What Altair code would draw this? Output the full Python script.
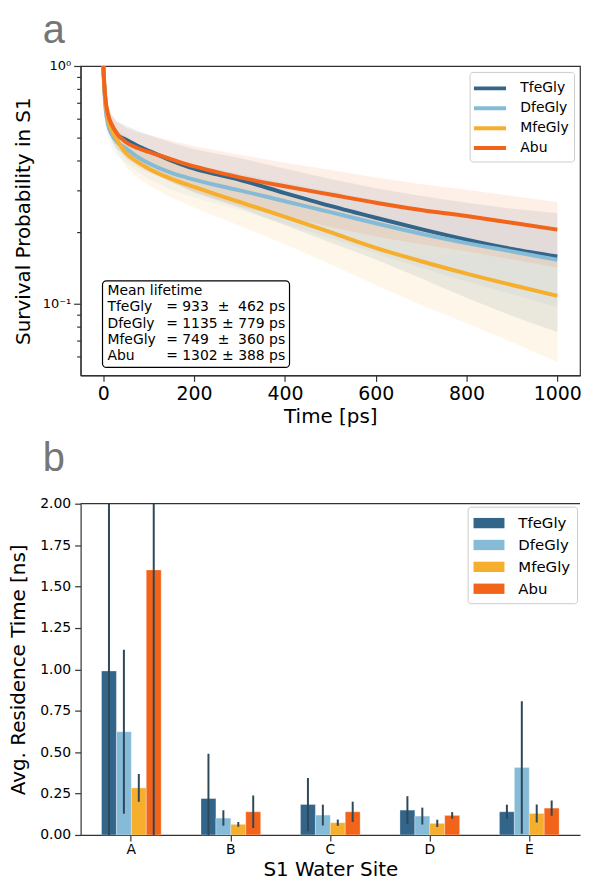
import altair as alt
import pandas as pd

# ---------------- data ----------------
series = ["TfeGly", "DfeGly", "MfeGly", "Abu"]
colors = ["#33658A", "#86BBD8", "#F6AE2D", "#F26419"]

times = [0, 2, 5, 10, 20, 30, 50, 75, 100, 150, 200, 250, 300, 400, 500, 600, 700, 800, 900, 1000]

surv_tfe = [1.0, 0.83, 0.70, 0.61, 0.545, 0.515, 0.49, 0.462, 0.44, 0.40, 0.37, 0.35, 0.332, 0.292, 0.258, 0.23, 0.206, 0.186, 0.17, 0.158]
surv_dfe = [1.0, 0.80, 0.66, 0.57, 0.51, 0.48, 0.45, 0.415, 0.39, 0.355, 0.333, 0.315, 0.30, 0.27, 0.243, 0.218, 0.197, 0.18, 0.166, 0.153]
surv_mfe = [1.0, 0.82, 0.70, 0.60, 0.53, 0.49, 0.43, 0.395, 0.37, 0.335, 0.31, 0.288, 0.268, 0.232, 0.20, 0.172, 0.151, 0.134, 0.12, 0.108]
surv_abu = [1.0, 0.85, 0.72, 0.63, 0.56, 0.52, 0.478, 0.452, 0.435, 0.405, 0.378, 0.358, 0.34, 0.312, 0.288, 0.266, 0.248, 0.234, 0.219, 0.205]

sd_tfe = [0.0, 0.03, 0.05, 0.06, 0.065, 0.068, 0.07, 0.072, 0.073, 0.075, 0.076, 0.077, 0.078, 0.078, 0.077, 0.076, 0.078, 0.08, 0.081, 0.082]
sd_dfe = [0.0, 0.04, 0.06, 0.065, 0.063, 0.06, 0.058, 0.056, 0.055, 0.054, 0.053, 0.052, 0.052, 0.053, 0.054, 0.055, 0.055, 0.056, 0.056, 0.056]
sd_mfe = [0.0, 0.03, 0.045, 0.05, 0.052, 0.053, 0.054, 0.055, 0.055, 0.056, 0.056, 0.056, 0.055, 0.054, 0.053, 0.052, 0.052, 0.051, 0.051, 0.051]
sd_abu = [0.0, 0.02, 0.04, 0.05, 0.06, 0.065, 0.07, 0.075, 0.078, 0.08, 0.082, 0.083, 0.083, 0.08, 0.077, 0.074, 0.07, 0.068, 0.065, 0.063]

lifetime = [933, 1135, 749, 1302]
lifetime_err = [462, 779, 360, 388]

sites = ["A", "B", "C", "D", "E"]
res_tfe = [0.99, 0.22, 0.184, 0.15, 0.14]
res_dfe = [0.623, 0.102, 0.12, 0.114, 0.407]
res_mfe = [0.284, 0.064, 0.074, 0.07, 0.13]
res_abu = [1.60, 0.14, 0.14, 0.118, 0.162]
err_tfe = [1.15, 0.27, 0.16, 0.084, 0.043]
err_dfe = [0.495, 0.047, 0.063, 0.051, 0.40]
err_mfe = [0.084, 0.015, 0.019, 0.022, 0.054]
err_abu = [1.65, 0.098, 0.061, 0.02, 0.046]

surv = dict(zip(series, [surv_tfe, surv_dfe, surv_mfe, surv_abu]))
sds = dict(zip(series, [sd_tfe, sd_dfe, sd_mfe, sd_abu]))
res = dict(zip(series, [res_tfe, res_dfe, res_mfe, res_abu]))
errs = dict(zip(series, [err_tfe, err_dfe, err_mfe, err_abu]))

band_names = [s + " band" for s in series]

rows = []
for k, s in enumerate(series):
    for t, m, sd in zip(times, surv[s], sds[s]):
        rows.append({"series": s, "grp": band_names[k], "order": k, "t": t, "p": m,
                     "lo": max(m - sd, 0.01), "hi": min(m + sd, 1.0)})
df_a = pd.DataFrame(rows)

rows = []
for k, s in enumerate(series):
    for site, v, e in zip(sites, res[s], errs[s]):
        rows.append({"site": site, "series": s, "value": v, "lo": v - e, "hi": v + e})
df_b = pd.DataFrame(rows)

NB = "\u00a0"
names_text = "\n".join(["Mean lifetime"] + series)
vals = []
for lt, le in zip(lifetime, lifetime_err):
    if lt < 1000:
        vals.append(f"= {lt}{NB}{NB}±{NB}{NB}{le} ps".replace(" ", NB))
    else:
        vals.append(f"= {lt} ± {le} ps".replace(" ", NB))
vals_text = "\n".join([NB] + vals)
df_box = pd.DataFrame({"names": [names_text], "vals": [vals_text]})

PANEL_GRAY = "#767676"
PANEL_FONT = "Liberation Sans"

# ---------------- panel a ----------------
W_A, H_A = 502, 311
color_scale = alt.Scale(domain=series, range=colors)
band_scale = alt.Scale(domain=band_names, range=colors)
xs = alt.Scale(domain=[-50, 1050], nice=False, zero=False)
ys = alt.Scale(type="log", domain=[0.05, 1], nice=False)

major_test = "datum.value == 1 || datum.value == 0.1"
xax = alt.Axis(values=[0, 200, 400, 600, 800, 1000], format="d", title="Time [ps]", grid=False,
               labelFontSize=19, titleFontSize=20, tickSize=6, labelPadding=3,
               titlePadding=3, titleFontWeight="normal")
yax = alt.Axis(values=[0.06, 0.07, 0.08, 0.09, 0.1, 0.2, 0.3, 0.4, 0.5, 0.6, 0.7, 0.8, 0.9, 1.0],
               grid=False, title="Survival Probability in S1",
               labelExpr="datum.value == 1 ? '10⁰' : (datum.value == 0.1 ? '10⁻¹' : '')",
               labelOverlap=False, labelFontSize=13, labelPadding=3,
               tickSize={"condition": {"test": major_test, "value": 7}, "value": 4},
               titleFontSize=20, titleFontWeight="normal", titlePadding=9)

base_a = alt.Chart(df_a)
bands = base_a.mark_area(opacity=0.1, clip=True, strokeWidth=1, strokeOpacity=0.12).encode(
    x=alt.X("t:Q", scale=xs, axis=xax),
    y=alt.Y("lo:Q", scale=ys, axis=yax),
    y2="hi:Q",
    fill=alt.Fill("grp:N", scale=band_scale, legend=None),
    stroke=alt.Stroke("grp:N", scale=band_scale, legend=None),
)
lines = base_a.mark_line(strokeWidth=4, clip=True, interpolate="monotone").encode(
    x=alt.X("t:Q", scale=xs),
    y=alt.Y("p:Q", scale=ys),
    color=alt.Color("series:N", scale=color_scale, sort=series,
                    legend=alt.Legend(title=None, orient="top-right", offset=6,
                                      symbolType="M-1.7,0H1.7", symbolStrokeWidth=4,
                                      symbolSize=361, symbolOffset=4,
                                      labelFontSize=14, labelOffset=19,
                                      strokeColor="#cccccc", fillColor="white",
                                      cornerRadius=3, padding=5, rowPadding=0)),
    order="order:Q",
)
box = alt.Chart(df_box).mark_rect(fill="white", stroke="black", strokeWidth=1.2,
                                  cornerRadius=4).encode(
    x=alt.value(22), x2=alt.value(210), y=alt.value(216), y2=alt.value(303))
txt_names = alt.Chart(df_box).mark_text(align="left", baseline="middle", fontSize=14,
                                        lineBreak="\n", lineHeight=16.5, color="black").encode(
    x=alt.value(27), y=alt.value(226), text="names:N")
txt_vals = alt.Chart(df_box).mark_text(align="left", baseline="middle", fontSize=14,
                                       lineBreak="\n", lineHeight=16.5, color="black").encode(
    x=alt.value(86), y=alt.value(226), text="vals:N")
label_a = alt.Chart(df_box).mark_text(text="a", fontSize=40, font=PANEL_FONT, color=PANEL_GRAY,
                                      align="left", baseline="alphabetic").encode(
    x=alt.value(-38), y=alt.value(-23))

panel_a = alt.layer(bands, lines, box, txt_names, txt_vals, label_a).properties(
    width=W_A, height=H_A,
    view=alt.ViewBackground(stroke="#333333", strokeWidth=1.2),
)

# ---------------- panel b ----------------
W_B, H_B = 502, 333
base_b = alt.Chart(df_b).encode(
    x=alt.X("site:N", sort=sites,
            scale=alt.Scale(paddingInner=0.4, paddingOuter=0.21),
            axis=alt.Axis(title="S1 Water Site", labelAngle=0, labelFontSize=14,
                          titleFontSize=20, tickSize=6, titleFontWeight="normal",
                          labelPadding=2, titlePadding=3)),
    xOffset=alt.XOffset("series:N", sort=series, scale=alt.Scale(paddingInner=0, paddingOuter=0)),
)
bars = base_b.mark_bar(stroke="white", strokeWidth=0.6, strokeOpacity=0.5).encode(
    y=alt.Y("value:Q", scale=alt.Scale(domain=[0, 2], nice=False),
            axis=alt.Axis(values=[0, 0.25, 0.5, 0.75, 1.0, 1.25, 1.5, 1.75, 2.0], format=".2f",
                          grid=False, labelFontSize=14, tickSize=6, labelPadding=4,
                          title="Avg. Residence Time [ns]", titleFontSize=20,
                          titleFontWeight="normal", titlePadding=11)),
    fill=alt.Fill("series:N", scale=color_scale, sort=series,
                  legend=alt.Legend(title=None, orient="top-right", offset=3,
                                    symbolType="M-1.5,-0.5H1.5V0.5H-1.5Z", symbolSize=430,
                                    symbolStrokeWidth=0, symbolOffset=5,
                                    labelFontSize=15, labelOffset=19,
                                    strokeColor="#cccccc", fillColor="white",
                                    cornerRadius=3, padding=6, rowPadding=3)),
)
ebars = base_b.mark_rule(color="#2F4858", strokeWidth=2, clip=True).encode(
    y=alt.Y("lo:Q"), y2="hi:Q")
top_rule = alt.Chart(df_box).mark_rule(color="#333333", strokeWidth=1.2).encode(
    x=alt.value(0), x2=alt.value(W_B), y=alt.value(0))
label_b = alt.Chart(df_box).mark_text(text="b", fontSize=40, font=PANEL_FONT, color=PANEL_GRAY,
                                      align="left", baseline="alphabetic").encode(
    x=alt.value(-38), y=alt.value(-33))

panel_b = alt.layer(bars, ebars, top_rule, label_b).properties(
    width=W_B, height=H_B,
    view=alt.ViewBackground(stroke="transparent"),
)

chart = alt.vconcat(panel_a, panel_b, spacing=11).resolve_scale(
    color="independent", fill="independent", stroke="independent"
).resolve_legend(
    color="independent", fill="independent", stroke="independent"
).configure(
    font="DejaVu Sans", padding=0
).configure_axis(
    domainColor="#333333", tickColor="#333333", domainWidth=1.2, tickWidth=1.2,
    labelColor="black", titleColor="black", labelFont="DejaVu Sans", titleFont="DejaVu Sans"
).configure_legend(
    labelFont="DejaVu Sans", labelColor="black"
)

chart.save("out.html", embed_options={"renderer": "svg", "actions": False})
